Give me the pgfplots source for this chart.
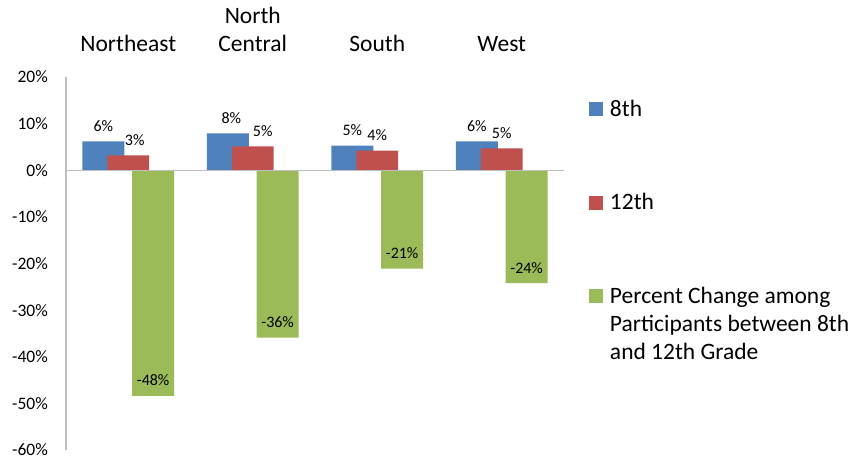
\documentclass[border=0pt]{standalone}
\usepackage{pgfplots}
\pgfplotsset{compat=1.18}
\usepackage{fontspec}
\setmainfont{Carlito}
\definecolor{cblue}{HTML}{4F81BD}
\definecolor{cred}{HTML}{C0504D}
\definecolor{cgreen}{HTML}{9BBB59}
\definecolor{axgray}{HTML}{BFBFBF}
\begin{document}
\begin{tikzpicture}
\path[use as bounding box] (-66bp,-13bp) rectangle (789bp,450bp);
\begin{axis}[
  scale only axis, width=498bp, height=373bp,
  xmin=-0.5, xmax=3.5, ymin=-60, ymax=20,
  axis y line*=left, axis x line*=top,
  x axis line style={draw=none},
  y axis line style={draw=axgray, line width=1.3bp},
  major tick length=0pt,
  xtick={0,1,2,3},
  xticklabels={Northeast,{North\\Central},South,West},
  xticklabel style={align=center, font=\fontsize{23.5bp}{28.3bp}\selectfont, anchor=south, inner sep=0pt, yshift=25bp},
  ytick={-60,-50,...,20},
  yticklabel={\pgfmathprintnumber{\tick}\%},
  yticklabel style={font=\fontsize{17.5bp}{21bp}\selectfont, inner sep=0pt, anchor=east, xshift=-18bp},
  /pgf/number format/assume math mode=true,
  every node near coord/.append style={font=\fontsize{16bp}{19bp}\selectfont, anchor=base, inner sep=0pt, yshift=10bp, text=black},
  mylegend/.style={legend image code/.code={\fill[##1] (0bp,0bp) rectangle (14bp,14bp);}},
  legend style={at={(1.0502,0.9536)}, anchor=north west, draw=none, fill=none, inner sep=0pt, outer sep=0pt, row sep=68bp, column sep=5bp,
    cells={anchor=base west, inner sep=0pt, font=\fontsize{23.5bp}{28.3bp}\selectfont, text height=20bp, text depth=0pt}},
]
\addplot[ybar, bar width=0.337, bar shift=-0.2, fill=cblue, draw=none, mylegend,
  nodes near coords, point meta=explicit symbolic,
  every node near coord/.append style={xshift=-24.9bp}]
  coordinates {(0,6.2) [6\%] (1,7.9) [\hspace*{7bp}8\%] (2,5.3) [5\%] (3,6.2) [6\%]};
\addlegendentry{8th}
\addplot[ybar, bar width=0.337, bar shift=0, fill=cred, draw=none, mylegend,
  nodes near coords, point meta=explicit symbolic]
  coordinates {(0,3.2) [\hspace*{13bp}3\%] (1,5.1) [\hspace*{20bp}5\%] (2,4.2) [4\%] (3,4.7) [5\%]};
\addlegendentry{12th}
\addplot[ybar, bar width=0.337, bar shift=0.2, fill=cgreen, draw=none, mylegend,
  nodes near coords, point meta=explicit symbolic,
  every node near coord/.append style={xshift=24.9bp}]
  coordinates {(0,-48.4) [-48\%] (1,-35.9) [-36\%] (2,-21.1) [-21\%] (3,-24.2) [-24\%]};
\addlegendentry{\begin{tabular}[t]{@{}l@{}}Percent Change among\\Participants between 8th\\and 12th Grade\end{tabular}}
\addplot[forget plot, draw=axgray, line width=1.3bp] coordinates {(-0.5,0) (3.5,0)};
\end{axis}
\end{tikzpicture}
\end{document}
